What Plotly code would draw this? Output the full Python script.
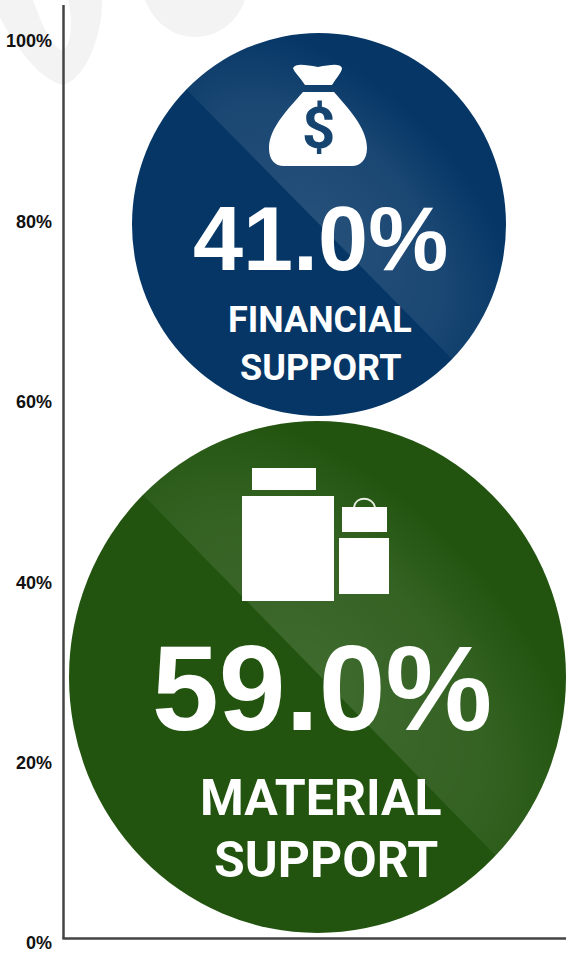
import base64
import math
import plotly.graph_objects as go

# ---- data ----
categories = ["MATERIAL<br>SUPPORT", "FINANCIAL<br>SUPPORT"]
values = [59.0, 41.0]
tick_values = [0, 20, 40, 60, 80, 100]
tick_labels = ["0%", "20%", "40%", "60%", "80%", "100%"]

# ---- geometry helpers (page pixels) ----
W, H = 566, 953
L, T, B = 64, 5, 953       # plot box
Y0_PX, Y100_PX = 943.0, 41.0
PPU = (Y0_PX - Y100_PX) / 100
y_range = [(Y0_PX - B) / PPU, (Y0_PX - T) / PPU]
x_range = [0, 100]


def xd(px):
    return (px - L) / (W - L) * 100


def yd(py):
    return (Y0_PX - py) / PPU


def xp(px):
    return (px - L) / (W - L)


def yp(py):
    return (B - py) / (B - T)


def path(cmds):
    out = []
    for c in cmds:
        if isinstance(c, str):
            out.append(c)
        else:
            out.append(f"{xp(c[0]):.5f},{yp(c[1]):.5f}")
    return " ".join(out)


# circle boxes and colours
circles = [
    dict(x0=69, x1=566, y0=421, y1=933, color="#22540F",
         line=((148, 500), (495, 855)), major=330, minor=190),
    dict(x0=132, x1=506, y0=33, y1=416, color="#053666",
         line=((190, 93), (451, 358)), major=250, minor=145),
]


def sheen(c):
    w, h = c["x1"] - c["x0"], c["y1"] - c["y0"]
    ox, oy = c["x0"], c["y0"]
    (ax, ay), (bx, by) = c["line"]
    dx, dy = bx - ax, by - ay
    a1 = (ax - dx - ox, ay - dy - oy)
    b1 = (bx + dx - ox, by + dy - oy)
    poly = f"{a1[0]},{a1[1]} {b1[0]},{b1[1]} {b1[0]+2000},{b1[1]-2000} {a1[0]+2000},{a1[1]-2000}"
    mx, my = (ax + bx) / 2 - ox, (ay + by) / 2 - oy
    angle = math.degrees(math.atan2(dy, dx))
    svg = (
        f'<svg xmlns="http://www.w3.org/2000/svg" width="{w}" height="{h}" viewBox="0 0 {w} {h}">'
        f'<defs><radialGradient id="g" gradientUnits="userSpaceOnUse" cx="0" cy="0" r="1" '
        f'gradientTransform="translate({mx} {my}) rotate({angle}) scale({c["major"]} {c["minor"]})">'
        '<stop offset="0" stop-color="#fff" stop-opacity="0.13"/>'
        '<stop offset="0.6" stop-color="#fff" stop-opacity="0.085"/>'
        '<stop offset="1" stop-color="#fff" stop-opacity="0"/></radialGradient>'
        f'<clipPath id="c"><ellipse cx="{w/2}" cy="{h/2}" rx="{w/2}" ry="{h/2}"/></clipPath></defs>'
        f'<g clip-path="url(#c)"><polygon points="{poly}" fill="url(#g)"/></g></svg>'
    )
    return "data:image/svg+xml;base64," + base64.b64encode(svg.encode()).decode()


fig = go.Figure()

# invisible-marker trace holding the values at each circle's centre
centers_x = [xd((c["x0"] + c["x1"]) / 2) for c in circles]
centers_y = [yd((c["y0"] + c["y1"]) / 2) for c in circles]
fig.add_trace(go.Scatter(
    x=centers_x, y=centers_y, mode="markers",
    marker=dict(size=1, opacity=0), customdata=values, text=categories,
    hovertemplate="%{text}: %{customdata:.1f}%<extra></extra>", showlegend=False,
))

shapes = []
images = []

# watermark
WM = "#F3F3F4"
shapes.append(dict(type="path", xref="paper", yref="paper", layer="below",
                   fillcolor=WM, line_width=0,
                   path=path(["M", (0, 18), "C", (12, 40), (38, 80), (63, 85), "C", (85, 80), (103, 35), (102, 0),
                              "L", (68, 0), "C", (74, 25), (70, 50), (62, 50), "C", (52, 48), (42, 25), (33, 0),
                              "L", (0, 0), "Z"])))
shapes.append(dict(type="path", xref="paper", yref="paper", layer="below",
                   fillcolor=WM, line_width=0,
                   path=path(["M", (145, 0), "C", (155, 25), (175, 37), (195, 37),
                              "C", (220, 37), (238, 20), (245, 0), "Z"])))

for c in circles:
    shapes.append(dict(type="circle", xref="x", yref="y", layer="below",
                       x0=xd(c["x0"]), x1=xd(c["x1"]), y0=yd(c["y1"]), y1=yd(c["y0"]),
                       fillcolor=c["color"], line_width=0))
    images.append(dict(source=sheen(c), xref="x", yref="y", layer="above",
                       x=xd(c["x0"]), y=yd(c["y0"]),
                       sizex=xd(c["x1"]) - xd(c["x0"]), sizey=yd(c["y0"]) - yd(c["y1"]),
                       xanchor="left", yanchor="top", sizing="stretch"))

# axis lines
AX = "#444444"
shapes.append(dict(type="line", xref="paper", yref="paper", layer="above",
                   x0=xp(63.5), x1=xp(63.5), y0=yp(939), y1=yp(5), line=dict(color=AX, width=2.5)))
shapes.append(dict(type="line", xref="paper", yref="paper", layer="above",
                   x0=xp(62.5), x1=xp(566), y0=yp(938.5), y1=yp(938.5), line=dict(color=AX, width=2.5)))

# money bag icon
ICON = "#FFFFFF"
shapes.append(dict(type="path", xref="paper", yref="paper", layer="above", fillcolor=ICON, line_width=0,
                   path=path(["M", (293, 68), "C", (296, 63), (305, 65), (318, 67), "C", (330, 65), (340, 63), (342, 68),
                              "C", (342, 72), (337, 77), (332, 85), "L", (305, 85), "C", (300, 77), (294, 72), (293, 68), "Z"])))
shapes.append(dict(type="path", xref="paper", yref="paper", layer="above", fillcolor=ICON, line_width=0,
                   path=path(["M", (303, 92), "L", (334, 92), "C", (348, 108), (367, 128), (367, 148),
                              "C", (367, 160), (360, 166), (352, 166), "L", (284, 166),
                              "C", (275, 166), (269, 160), (269, 148), "C", (269, 128), (289, 108), (303, 92), "Z"])))

# shopping bag icon
for x0, y0, x1, y1 in [(252, 468, 316, 490), (242, 496, 334, 601), (342, 507, 387, 532), (339, 538, 389, 594)]:
    shapes.append(dict(type="rect", xref="paper", yref="paper", layer="above",
                       x0=xp(x0), x1=xp(x1), y0=yp(y1), y1=yp(y0), fillcolor=ICON, line_width=0))
shapes.append(dict(type="path", xref="paper", yref="paper", layer="above", fillcolor="rgba(0,0,0,0)",
                   line=dict(color="#E8EEE4", width=2),
                   path=path(["M", (354, 507), "C", (356, 496), (372, 496), (375, 507)])))

# text
annotations = []


def add_text(text, px, py, size, family, color="#FFFFFF", bold=True):
    annotations.append(dict(
        text=f"<b>{text}</b>" if bold else text, x=xp(px), y=yp(py), xref="paper", yref="paper",
        showarrow=False, xanchor="center", yanchor="middle",
        font=dict(family=family, size=size, color=color)))


value_pos = [(322, 688, 120), (320, 239, 90)]
label_pos = [((321, 798), (326, 860), 50), ((320, 320), (320, 368), 36)]
for v, cat, (vx, vy, vs), (l1, l2, ls) in zip(values, categories, value_pos, label_pos):
    add_text(f"{v:.1f}%", vx, vy, vs, "Liberation Sans")
    first, second = cat.split("<br>")
    add_text(first, l1[0], l1[1], ls, "Roboto")
    add_text(second, l2[0], l2[1], ls, "Roboto")
add_text("$", 318, 128, 58, "Roboto", color="#164470")

fig.update_layout(
    width=W, height=H, autosize=False,
    margin=dict(l=L, r=0, t=T, b=H - B, pad=0),
    paper_bgcolor="white", plot_bgcolor="rgba(0,0,0,0)",
    showlegend=False, shapes=shapes, images=images, annotations=annotations,
    xaxis=dict(range=x_range, visible=False, fixedrange=True),
    yaxis=dict(range=y_range, tickmode="array", tickvals=tick_values, ticktext=tick_labels,
               showgrid=False, zeroline=False, showline=False, ticks="", ticklabelstandoff=11,
               ticklabeloverflow="allow",
               tickfont=dict(family="Liberation Sans", size=18, color="#111111", weight="bold"),
               fixedrange=True),
)

fig.write_html("out.html", config={"displayModeBar": False},
               post_script="document.body.style.margin='0';document.body.style.overflow='hidden';")
